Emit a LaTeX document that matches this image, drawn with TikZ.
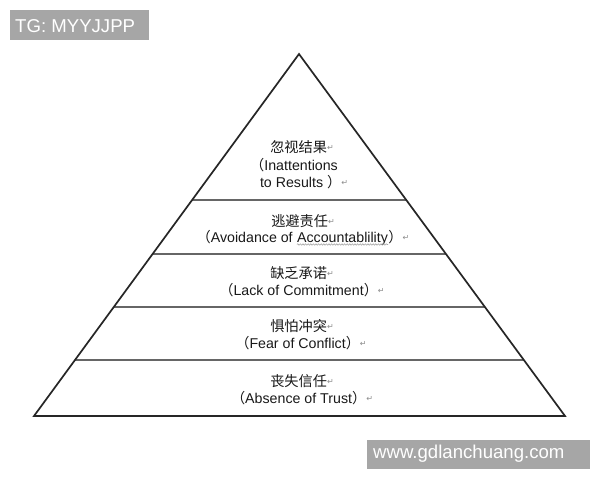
\documentclass[tikz,border=0pt]{standalone}
\usepackage{fontspec}
\setmainfont{Liberation Sans}
\newfontfamily\cjk{Noto Sans CJK SC}
\newfontfamily\dvfont{DejaVu Sans}
\usetikzlibrary{calc,decorations.pathmorphing}
\newcommand\retmark{\raisebox{1.5pt}{\dvfont\fontsize{8}{8}\selectfont\textcolor{black!45}{↵}}}
\newcommand\lp{{\cjk （}}
\newcommand\rp{{\cjk ）}}
\newcommand\squig[1]{\tikz[baseline=(sq.base)]{\node[inner sep=0pt] (sq) {#1};
  \draw[decorate, decoration={snake, amplitude=0.7pt, segment length=2.6pt}, draw=black!35, line width=0.6pt]
   ([yshift=-2.5pt]sq.base west) -- ([yshift=-2.5pt]sq.base east);}}
\definecolor{wmgray}{HTML}{A6A6A6}
\tikzset{
  side/.style={line width=1.7pt, draw=black!85, line join=miter},
  layer/.style={line width=1.5pt, draw=black!60},
  txt/.style={anchor=base, inner sep=0pt, text=black!90, font=\fontsize{14.2}{16}\selectfont},
  wmbox/.style={fill=wmgray, draw=none, inner sep=0pt, anchor=north west},
  wmtxt/.style={anchor=base west, inner sep=0pt, text=white, font=\fontsize{18.6}{20}\selectfont},
}
\begin{document}
\begin{tikzpicture}[x=1pt,y=-1pt]
\useasboundingbox (0,0) rectangle (600,480);
\fill[white] (0,0) rectangle (600,480);
% pyramid corners
\coordinate (apex) at (299,54);
\coordinate (bl) at (34,416);
\coordinate (br) at (565,416);
% layer lines
\foreach \t/\n in {0.5967/a,0.4475/b,0.3011/c,0.1547/d}{
  \coordinate (L\n) at ($(bl)!\t!(apex)$);
  \coordinate (R\n) at ($(br)!\t!(apex)$);
  \draw[layer] (L\n) -- (R\n);
}
\draw[side] (bl) -- (apex) -- (br) -- cycle;
% texts
\node[txt] (t1) at (302,152) {\cjk 忽视结果\retmark};
\node[txt] (t2) at (294,170) {\lp Inattentions};
\node[txt] (t3) at (304,187) {to Results \rp\retmark};
\node[txt] (t4) at (303,226) {\cjk 逃避责任\retmark};
\node[txt] (t5) at (303,242) {\lp Avoidance of \squig{Accountablility}\rp\retmark};
\node[txt] (t6) at (302,278) {\cjk 缺乏承诺\retmark};
\node[txt] (t7) at (302,295) {\lp Lack of Commitment\rp\retmark};
\node[txt] (t8) at (302,331) {\cjk 惧怕冲突\retmark};
\node[txt] (t9) at (301,348) {\lp Fear of Conflict\rp\retmark};
\node[txt] (t10) at (302,386) {\cjk 丧失信任\retmark};
\node[txt] (t11) at (302,403) {\lp Absence of Trust\rp\retmark};
% watermarks
\node[wmbox, minimum width=139pt, minimum height=30pt] (wm1) at (10,10) {};
\node[wmtxt] (wm1t) at (15,32) {TG: MYYJJPP};
\node[wmbox, minimum width=223pt, minimum height=29pt] (wm2) at (367,440) {};
\node[wmtxt] (wm2t) at (373,458) {www.gdlanchuang.com};
\end{tikzpicture}
\end{document}
